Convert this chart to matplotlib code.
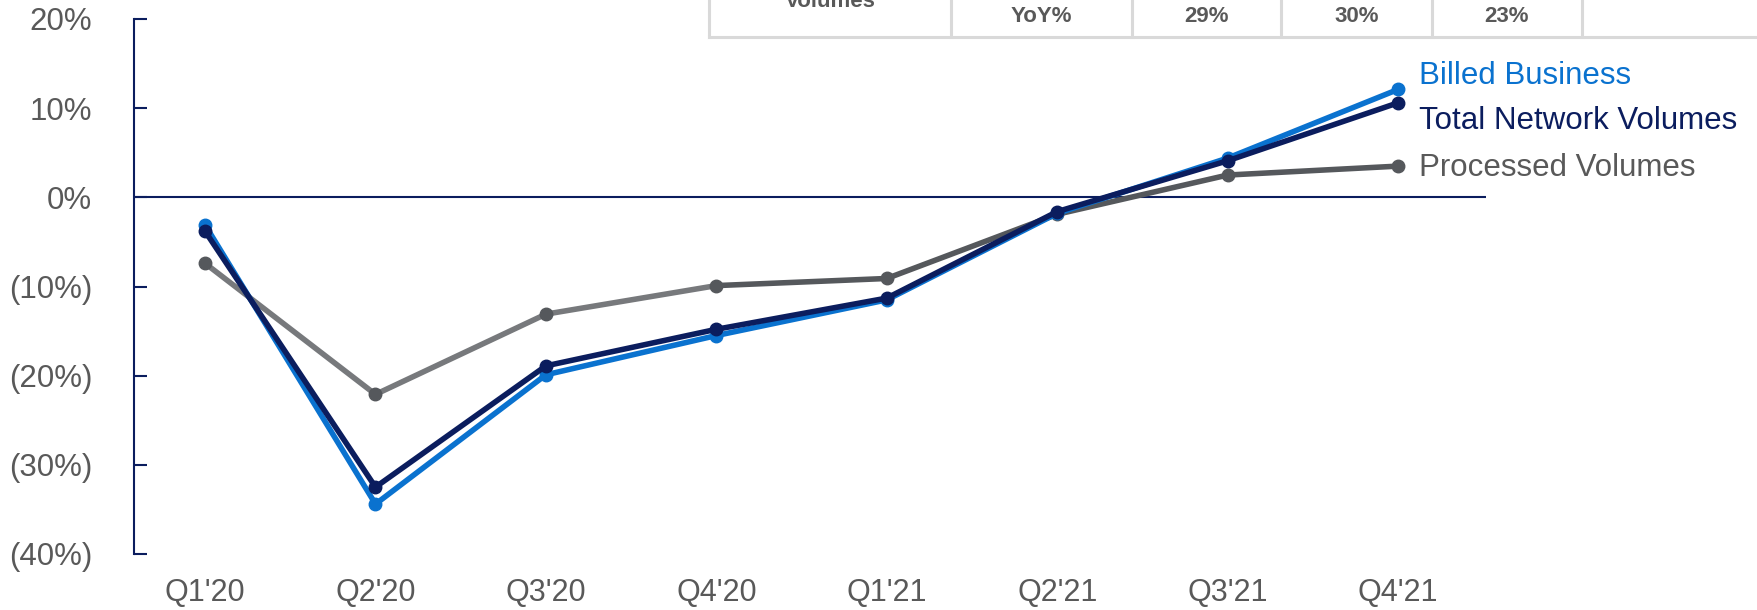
import matplotlib
matplotlib.use("Agg")
import matplotlib.pyplot as plt
from matplotlib.lines import Line2D

plt.rcParams['font.family'] = ['Liberation Sans', 'DejaVu Sans']

# Quarterly YoY growth (%)
quarters = ["Q1'20", "Q2'20", "Q3'20", "Q4'20", "Q1'21", "Q2'21", "Q3'21", "Q4'21"]
billed_business = [-3.1, -34.4, -19.9, -15.5, -11.5, -1.8, 4.4, 12.1]
total_network = [-3.8, -32.5, -18.9, -14.8, -11.3, -1.6, 4.1, 10.6]
processed = [-7.4, -22.1, -13.1, -9.9, -9.1, -1.9, 2.5, 3.5]

y_ticks = [20, 10, 0, -10, -20, -30, -40]
y_tick_labels = ["20%", "10%", "0%", "(10%)", "(20%)", "(30%)", "(40%)"]

table_cells = ["Volumes", "YoY%", "29%", "30%", "23%", ""]

BLUE = "#0a72cf"
NAVY = "#0b1d5e"
GRAY_LINE = "#77797c"
GRAY_DARK = "#55585c"
TEXT_GRAY = "#595959"
GRID_GRAY = "#d9d9d9"

W, H = 1758, 610
fig = plt.figure(figsize=(W / 100, H / 100), dpi=100)

# Axes placed in pixel terms
left_px, right_px, top_px, bottom_px = 134, 1486, 19, 554
ax = fig.add_axes([left_px / W, 1 - bottom_px / H,
                   (right_px - left_px) / W, (bottom_px - top_px) / H])

x = list(range(len(quarters)))
ax.set_xlim(-0.417, 7.516)
ax.set_ylim(-40, 20)

ax.axhline(0, color=NAVY, lw=1.5, zorder=1)

lw, ms = 4.0, 9.0
# Processed volumes: lighter through 2020, darker afterwards
ax.plot(x[:4], processed[:4], color=GRAY_LINE, lw=lw, solid_capstyle='round', zorder=2)
ax.plot(x[3:], processed[3:], color=GRAY_DARK, lw=lw, solid_capstyle='round', zorder=2)
ax.plot(x, processed, ls='none', marker='o', ms=ms, color=GRAY_DARK, zorder=2)
ax.plot(x, billed_business, color=BLUE, lw=lw, marker='o', ms=ms, zorder=3)
ax.plot(x, total_network, color=NAVY, lw=lw, marker='o', ms=ms, zorder=4)

# End-of-line labels
label_specs = [
    ("Billed Business", billed_business, BLUE, 10),
    ("Total Network Volumes", total_network, NAVY, -13),
    ("Processed Volumes", processed, TEXT_GRAY, -1.5),
]
for text, series, color, dy in label_specs:
    ax.annotate(text, xy=(x[-1], series[-1]), xytext=(15, dy),
                textcoords='offset points', ha='left', va='center',
                fontsize=22.5, color=color, annotation_clip=False)

for side in ['top', 'right', 'bottom']:
    ax.spines[side].set_visible(False)
ax.spines['left'].set_color(NAVY)
ax.spines['left'].set_linewidth(1.5)

ax.set_yticks(y_ticks)
ax.set_yticklabels(y_tick_labels)
ax.tick_params(axis='y', direction='in', length=9.5, width=1.5, color=NAVY,
               pad=30, labelsize=22.5, labelcolor=TEXT_GRAY)
ax.set_xticks(x)
ax.set_xticklabels(quarters)
ax.tick_params(axis='x', length=0, pad=17.5, labelsize=22, labelcolor=TEXT_GRAY)

# Summary table strip along the top edge
row_bottom = 37
col_edges = [709, 951, 1132, 1281, 1432, 1582, W]
fig.add_artist(Line2D([col_edges[0] / W, 1], [1 - row_bottom / H] * 2,
                      color=GRID_GRAY, lw=2.2, transform=fig.transFigure))
for xe in col_edges[:-1]:
    fig.add_artist(Line2D([xe / W] * 2, [1 - row_bottom / H, 1],
                          color=GRID_GRAY, lw=2.2, transform=fig.transFigure))
for i, cell in enumerate(table_cells):
    if not cell:
        continue
    cx = (col_edges[i] + col_edges[i + 1]) / 2
    if i == 0:
        fig.text(cx / W, 1 - 7 / H, cell, ha='center', va='baseline',
                 fontsize=16, fontweight='bold', color=TEXT_GRAY)
    else:
        fig.text(cx / W, 1 - 17 / H, cell, ha='center', va='center',
                 fontsize=16, fontweight='bold', color=TEXT_GRAY)

fig.savefig("out.png", dpi=100)
